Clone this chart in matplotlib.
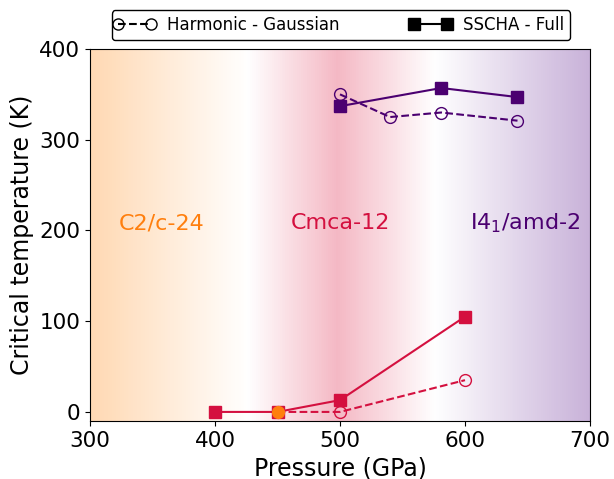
import numpy as np
import matplotlib
matplotlib.use("Agg")
import matplotlib.pyplot as plt
from matplotlib.colors import LinearSegmentedColormap, to_rgb
from matplotlib.lines import Line2D
from matplotlib.legend_handler import HandlerLine2D

# data
p_cmca_full = [400, 450, 500, 600]
tc_cmca_full = [0, 0, 13, 105]
p_cmca_harm = [450, 500, 600]
tc_cmca_harm = [0, 0, 35]
p_c2c = [450]
tc_c2c = [0]
p_i41_full = [500, 581, 642]
tc_i41_full = [337, 357, 347]
p_i41_harm = [500, 540, 581, 642]
tc_i41_harm = [350, 325, 330, 321]

phase_names = ["C2/c-24", "Cmca-12", r"I4$_1$/amd-2"]
phase_pos = [357, 500, 648]

c_orange = "#ff7f0e"
c_red = "#d4103f"
c_purple = "#4b0070"

plt.rcParams['font.family'] = ['DejaVu Sans']
fig = plt.figure(figsize=(6.14, 4.79), dpi=100)
ax = fig.add_axes([0.1466, 0.1211, 0.8143, 0.7766])


def tint(c, a):
    r = np.array(to_rgb(c))
    return tuple((1 - a) + a * r)


# background gradient
stops = [(0.0, tint("#ff8c1a", 0.33)), ((426 - 300) / 400, (1, 1, 1)),
         ((498 - 300) / 400, tint("#dc143c", 0.3)), ((576 - 300) / 400, (1, 1, 1)),
         (1.0, tint("#4b0082", 0.3))]
cmap = LinearSegmentedColormap.from_list("bg", stops)
grad = np.linspace(0, 1, 500).reshape(1, -1)
ax.imshow(grad, cmap=cmap, aspect="auto", extent=[300, 700, -10, 400], zorder=0)

ms = 8.5
ax.plot(p_cmca_full, tc_cmca_full, "-s", color=c_red, ms=ms, lw=1.5, zorder=3)
ax.plot(p_cmca_harm, tc_cmca_harm, "--o", color=c_red, ms=ms, lw=1.5, mfc="none", zorder=3)
ax.plot(p_c2c, tc_c2c, "o", color=c_orange, ms=ms, zorder=4)
ax.plot(p_i41_full, tc_i41_full, "-s", color=c_purple, ms=ms, lw=1.5, zorder=3)
ax.plot(p_i41_harm, tc_i41_harm, "--o", color=c_purple, ms=ms, lw=1.5, mfc="none", zorder=3)

for name, x, c in zip(phase_names, phase_pos, [c_orange, c_red, c_purple]):
    ax.text(x, 208, name, color=c, fontsize=16, ha="center", va="center")

ax.set_xlim(300, 700)
ax.set_ylim(-10, 400)
ax.set_xticks([300, 400, 500, 600, 700])
ax.set_yticks([0, 100, 200, 300, 400])
ax.tick_params(labelsize=15.5)
ax.set_xlabel("Pressure (GPa)", fontsize=17)
ax.set_ylabel("Critical temperature (K)", fontsize=17)

handles = [Line2D([], [], color="k", ls="--", marker="o", mfc="none", ms=8),
           Line2D([], [], color="k", ls="-", marker="s", ms=8)]
ax.legend(handles, ["Harmonic - Gaussian", "SSCHA - Full"], ncol=2, mode="expand",
          loc="lower left", bbox_to_anchor=(0.044, 1.024, 0.916, 0.081),
          fontsize=12, frameon=True, edgecolor="k", framealpha=1,
          handler_map={Line2D: HandlerLine2D(marker_pad=0, numpoints=2)},
          borderaxespad=0, handlelength=2.0, handletextpad=0.95, borderpad=0.35)

fig.savefig("out.png", dpi=100)
